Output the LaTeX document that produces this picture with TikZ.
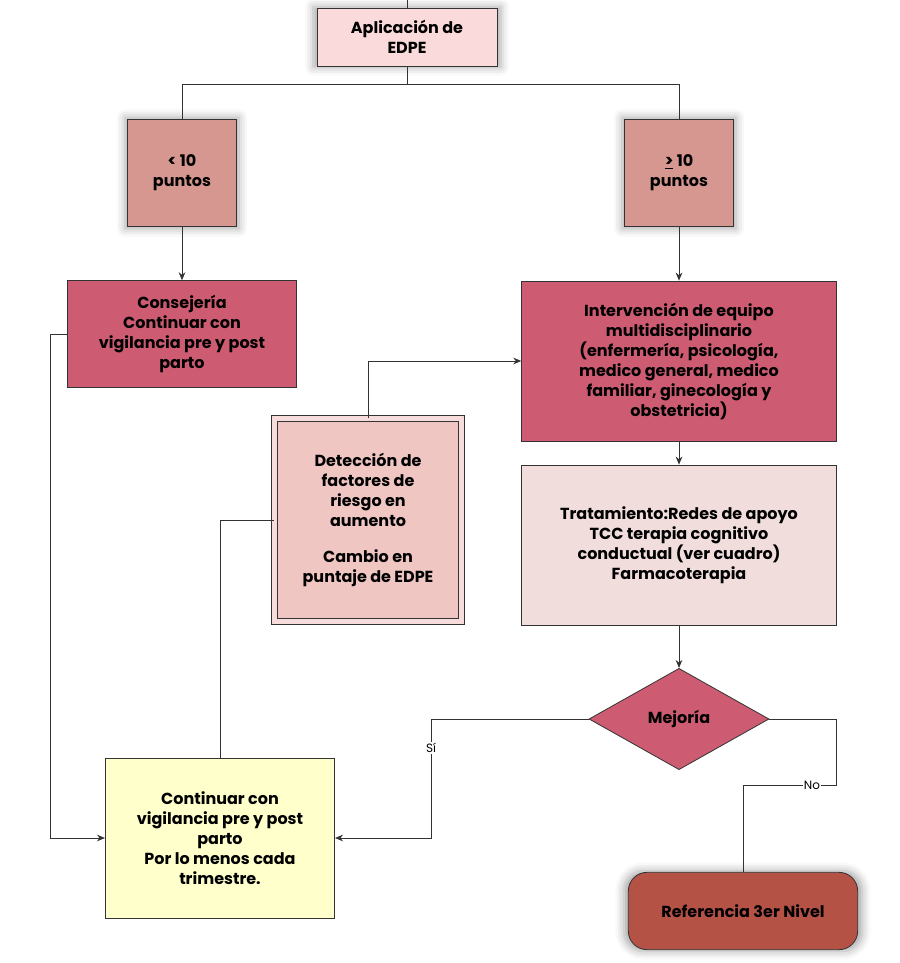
\documentclass[tikz,border=0pt]{standalone}
\usepackage{fontspec}
\setmainfont{Poppins}
\usetikzlibrary{shapes.geometric,shadows.blur,arrows.meta}
\definecolor{rosaclaro}{HTML}{FADADB}
\definecolor{salmon}{HTML}{D5978F}
\definecolor{frambuesa}{HTML}{CD5C72}
\definecolor{rosapalo}{HTML}{F0C6C3}
\definecolor{rosagris}{HTML}{F0DDDC}
\definecolor{crema}{HTML}{FFFFCC}
\definecolor{ladrillo}{HTML}{B55246}
\tikzset{
  caja/.style={draw=black!80, line width=0.6pt, align=center, font=\bfseries\fontsize{12}{15}\selectfont, inner sep=2pt},
  brillo/.style={blur shadow={shadow xshift=0pt, shadow yshift=0pt, shadow blur radius=6pt, shadow opacity=35, shadow scale=1.04}},
  linea/.style={draw=black!80, line width=0.6pt},
  flecha/.style={linea, -{Stealth[length=6pt,width=5pt]}},
  etiqueta/.style={fill=white, inner sep=1pt, font=\fontsize{9}{10}\selectfont}
}
\begin{document}
\begin{tikzpicture}[x=0.75pt,y=-0.75pt]
\useasboundingbox (0,0) rectangle (899,963);

% Nodos
\node[caja, brillo, fill=rosaclaro, minimum width=135pt, minimum height=43.5pt] (aplic) at (407,37) {Aplicación de\\EDPE};
\node[caja, brillo, fill=salmon, minimum width=82pt, minimum height=80pt] (menor) at (182,173) {< 10\\puntos};
\node[caja, brillo, fill=salmon, minimum width=82pt, minimum height=80pt] (mayor) at (679,173) {\underline{>} 10\\puntos};
\node[caja, fill=frambuesa, minimum width=172pt, minimum height=80pt] (consej) at (182,334) {Consejería\\Continuar con\\vigilancia pre y post\\parto};
\node[caja, fill=frambuesa, minimum width=236pt, minimum height=120pt] (interv) at (679,361) {Intervención de equipo\\multidisciplinario\\(enfermería, psicología,\\medico general, medico\\familiar, ginecología y\\obstetricia)};
\node[caja, fill=rosapalo, double=rosapalo!60!white, double distance=4pt, minimum width=140pt, minimum height=152pt] (detec) at (368,520) {Detección de\\factores de\\riesgo en\\aumento\\[12pt]Cambio en\\puntaje de EDPE};
\node[caja, fill=rosagris, minimum width=236pt, minimum height=120pt] (trat) at (679,545) {Tratamiento:Redes de apoyo\\TCC terapia cognitivo\\conductual (ver cuadro)\\Farmacoterapia};
\node[caja, diamond, aspect=1.8, fill=frambuesa, minimum width=135pt, minimum height=76pt, inner sep=0pt] (mejora) at (679,719) {Mejoría};
\node[caja, fill=crema, minimum width=172pt, minimum height=120pt] (contin) at (220,838) {Continuar con\\vigilancia pre y post\\parto\\Por lo menos cada\\trimestre.};
\node[caja, brillo, fill=ladrillo, rounded corners=14pt, minimum width=172pt, minimum height=58pt] (refer) at (743,911) {Referencia 3er Nivel};

% Conectores
\draw[linea] (aplic.north) -- (407,0);
\draw[linea] (aplic.south) -- (407,84) -| (menor.north);
\draw[linea] (407,84) -| (mayor.north);
\draw[flecha] (menor) -- (consej);
\draw[flecha] (mayor) -- (interv);
\draw[flecha] (consej.west) -- (50,334) |- (contin.west);
\draw[flecha] (detec.north) |- (interv.west);
\draw[linea] (contin.north) |- (detec.west);
\draw[flecha] (interv) -- (trat);
\draw[flecha] (trat) -- (mejora);
\draw[flecha] (mejora.west) -| (431,838) -- (contin.east);
\node[etiqueta] at (431,748) {Sí};
\draw[linea] (mejora.east) -- (836,719) |- (743,785) -- (refer.north);
\node[etiqueta] at (812,785) {No};
\end{tikzpicture}
\end{document}
